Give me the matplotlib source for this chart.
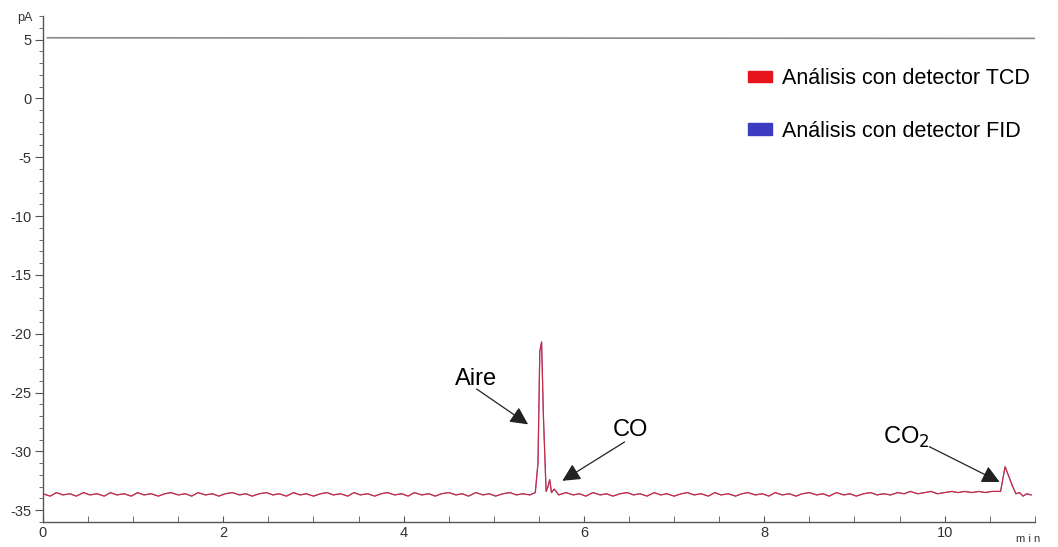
import matplotlib
matplotlib.use("Agg")
import matplotlib.pyplot as plt
from matplotlib.ticker import MultipleLocator
from matplotlib.patches import Patch

plt.rcParams['font.family'] = ['Liberation Sans', 'DejaVu Sans']
plt.rcParams['axes.unicode_minus'] = False

# Chromatogram points (time in min, signal in pA)
tcd_time = [
    0.0, 0.08, 0.15, 0.22, 0.3, 0.37, 0.45, 0.52, 0.6, 0.68,
    0.75, 0.82, 0.9, 0.98, 1.05, 1.12, 1.2, 1.28, 1.35, 1.42,
    1.5, 1.58, 1.65, 1.72, 1.8, 1.88, 1.95, 2.02, 2.1, 2.18,
    2.25, 2.32, 2.4, 2.48, 2.55, 2.62, 2.7, 2.78, 2.85, 2.92,
    3.0, 3.08, 3.15, 3.22, 3.3, 3.38, 3.45, 3.52, 3.6, 3.68,
    3.75, 3.82, 3.9, 3.98, 4.05, 4.12, 4.2, 4.28, 4.35, 4.42,
    4.5, 4.58, 4.65, 4.72, 4.8, 4.88, 4.95, 5.02, 5.1, 5.18,
    5.25, 5.32, 5.4, 5.46, 5.49, 5.51, 5.53, 5.55, 5.58, 5.6,
    5.62, 5.64, 5.67, 5.72, 5.8, 5.88, 5.95, 6.02, 6.1, 6.18,
    6.25, 6.32, 6.4, 6.48, 6.55, 6.62, 6.7, 6.78, 6.85, 6.92,
    7.0, 7.08, 7.15, 7.22, 7.3, 7.38, 7.45, 7.52, 7.6, 7.68,
    7.75, 7.82, 7.9, 7.98, 8.05, 8.12, 8.2, 8.28, 8.35, 8.42,
    8.5, 8.58, 8.65, 8.72, 8.8, 8.88, 8.95, 9.02, 9.1, 9.18,
    9.25, 9.32, 9.4, 9.48, 9.55, 9.62, 9.7, 9.78, 9.85, 9.92,
    10.0, 10.08, 10.15, 10.22, 10.3, 10.38, 10.45, 10.52, 10.62, 10.67,
    10.71, 10.75, 10.79, 10.83, 10.87, 10.91, 10.96,
]
tcd_signal = [
    -33.6, -33.8, -33.5, -33.7, -33.6, -33.8, -33.5, -33.7, -33.6, -33.8,
    -33.5, -33.7, -33.6, -33.8, -33.5, -33.7, -33.6, -33.8, -33.6, -33.5,
    -33.7, -33.6, -33.8, -33.5, -33.7, -33.6, -33.8, -33.6, -33.5, -33.7,
    -33.6, -33.8, -33.6, -33.5, -33.7, -33.6, -33.8, -33.5, -33.7, -33.6,
    -33.8, -33.6, -33.5, -33.7, -33.6, -33.8, -33.5, -33.7, -33.6, -33.8,
    -33.6, -33.5, -33.7, -33.6, -33.8, -33.5, -33.7, -33.6, -33.8, -33.6,
    -33.5, -33.7, -33.6, -33.8, -33.5, -33.7, -33.6, -33.8, -33.6, -33.5,
    -33.7, -33.6, -33.7, -33.5, -31.0, -21.5, -20.7, -27.0, -33.4, -33.0,
    -32.4, -33.5, -33.2, -33.7, -33.5, -33.7, -33.6, -33.8, -33.5, -33.7,
    -33.6, -33.8, -33.6, -33.5, -33.7, -33.6, -33.8, -33.5, -33.7, -33.6,
    -33.8, -33.6, -33.5, -33.7, -33.6, -33.8, -33.5, -33.7, -33.6, -33.8,
    -33.6, -33.5, -33.7, -33.6, -33.8, -33.5, -33.7, -33.6, -33.8, -33.6,
    -33.5, -33.7, -33.6, -33.8, -33.5, -33.7, -33.6, -33.8, -33.6, -33.5,
    -33.7, -33.6, -33.7, -33.5, -33.6, -33.4, -33.6, -33.5, -33.4, -33.6,
    -33.5, -33.4, -33.5, -33.4, -33.5, -33.4, -33.5, -33.4, -33.4, -31.3,
    -32.1, -32.9, -33.6, -33.5, -33.8, -33.6, -33.7,
]
fid_time = tcd_time
fid_signal = tcd_signal

ref_time = [0.05, 11.0]
ref_signal = [5.15, 5.1]

legend_labels = ["Análisis con detector TCD", "Análisis con detector FID"]
legend_colors = ["#e8141c", "#3c3cc0"]

peak_labels = ["Aire", "CO", "CO$_2$"]
label_pos = [(4.80, -23.85), (6.51, -28.15), (9.57, -28.8)]
arrow_start = [(4.81, -24.7), (6.45, -29.2), (9.83, -29.6)]
arrow_tip = [(5.38, -27.7), (5.76, -32.5), (10.61, -32.6)]

fig = plt.figure(figsize=(10.58, 5.47), dpi=100)
ax = fig.add_axes([0.0406, 0.0457, 0.9375, 0.925])

ax.plot(ref_time, ref_signal, color="#8a8a8a", lw=1.2)
ax.plot(fid_time, fid_signal, color="#6a3a8a", lw=0.8, alpha=0.8)
ax.plot(tcd_time, tcd_signal, color="#d0203a", lw=0.9, alpha=0.85)

ax.set_xlim(0, 11.0)
ax.set_ylim(-36, 7)

ax.xaxis.set_major_locator(MultipleLocator(2))
ax.xaxis.set_minor_locator(MultipleLocator(0.5))
ax.yaxis.set_major_locator(MultipleLocator(5))
ax.yaxis.set_minor_locator(MultipleLocator(1))

for s in ["top", "right"]:
    ax.spines[s].set_visible(False)
for s in ["left", "bottom"]:
    ax.spines[s].set_color("#555555")
    ax.spines[s].set_linewidth(1.0)

ax.tick_params(axis="y", which="major", direction="out", length=6, color="#555555",
               labelsize=10.5, labelcolor="#333333", pad=2)
ax.tick_params(axis="y", which="minor", direction="out", length=3, color="#555555")
ax.tick_params(axis="x", which="both", direction="in", length=4, color="#555555",
               labelsize=10.5, labelcolor="#333333", pad=3)

fig.text(0.016, 0.962, "pA", fontsize=9, color="#333333")
fig.text(0.960, 0.010, "m i n", fontsize=8, color="#333333")

arrow = dict(arrowstyle="-|>,head_length=0.6,head_width=0.3", color="#222222", lw=0.9,
             mutation_scale=18, shrinkA=0, shrinkB=0)
for lab, lp, st, tp in zip(peak_labels, label_pos, arrow_start, arrow_tip):
    ax.text(lp[0], lp[1], lab, fontsize=17, ha="center", va="center")
    ax.annotate("", xy=tp, xytext=st, arrowprops=arrow)

handles = [Patch(facecolor=c, edgecolor=c) for c in legend_colors]
ax.legend(handles, legend_labels, loc="upper left", bbox_to_anchor=(0.691, 0.935),
          frameon=False, fontsize=15.5, handlelength=1.15, handleheight=0.45,
          handletextpad=0.45, labelspacing=1.45)

fig.savefig("out.png", dpi=100)
